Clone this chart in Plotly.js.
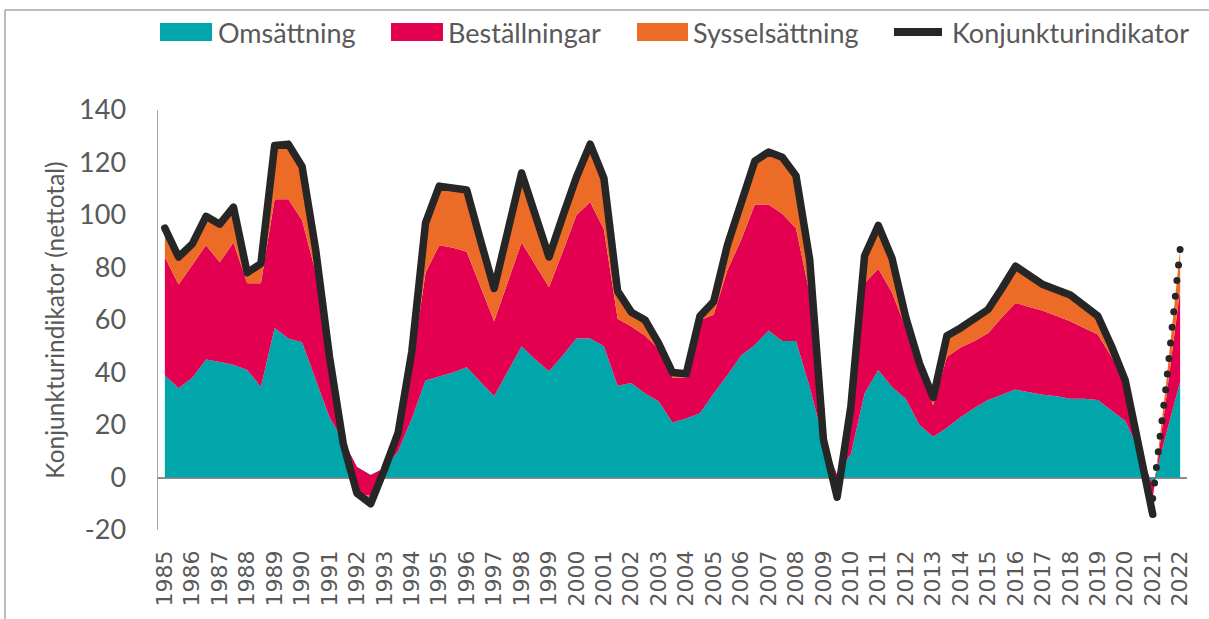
<!DOCTYPE html>
<html>
<head>
<meta charset="utf-8">
<script src="https://cdn.plot.ly/plotly-3.0.1.min.js"></script>
<style>
  html, body { margin: 0; padding: 0; background: #ffffff; }
  #chart { width: 1209px; height: 619px; }
  .scatterlayer .trace path.js-line { stroke-linejoin: round; stroke-linecap: round; }
</style>
</head>
<body>
<div id="chart"></div>
<script>
// ---- Data ----
const years = [1985,1986,1987,1988,1989,1990,1991,1992,1993,1994,1995,1996,1997,1998,1999,2000,
               2001,2002,2003,2004,2005,2006,2007,2008,2009,2010,2011,2012,2013,2014,2015,2016,
               2017,2018,2019,2020,2021,2022];
// half-year periods: H1 and H2 of each year, the last one is 2022 H1
const periods = [];
years.forEach(function (y) { periods.push(y + ' H1'); if (y < 2022) periods.push(y + ' H2'); });

const seriesNames = ['Omsättning', 'Beställningar', 'Sysselsättning', 'Konjunkturindikator'];

const omsattning = [39,34,38,45,44,43,41,34.5,57,53,
  51.5,37,23,14,4,1,3.5,10,22.5,37,
  38.5,40,42,36.5,31,40.5,50,45,40.5,46.5,
  53,53,50,35,36,32,29,21,22.5,24.5,
  32,39,46.5,50.5,56,52,52,34.5,14,1,
  9,32,41,34.5,30,20,15.5,19,23,26.5,
  29.5,31.5,33.5,32.5,31.5,31,30,30,29.5,25.5,
  21.5,10.5,-3,17,36.5];

const bestallningar = [45,39.5,43,43.5,38,46.5,33,39.5,49,53,
  46.5,41,19,0,-10,-8,-1,6,20,41,
  50,47.5,44,36,28.5,34,39.5,36,32,39.5,
  47,52,44.5,25.5,21.5,22,20,17,15.5,35.5,
  30,40,44,53.5,48,48.5,43,35.5,0.5,-2,
  17,42,38.5,36,27,21,12,27,26.5,25.5,
  25.5,29.5,33,32.5,32,30.5,29.5,27,25,20.5,
  14.5,1,-5,14,35];

const sysselsattning = [11,11,8,11,14.5,13.5,4,7.5,20.5,21,
  20.5,8,4,0,0,-1,0,1,5.5,19,
  22.5,23,23.5,18,12.5,19.5,26.5,19,11.5,13.5,
  14.5,22,19.5,10.5,5.5,6,2.5,2,1.5,1.5,
  5,9,14,16.5,20,21.5,20,13,0,-1,
  1,10.5,16.5,13,4,2.5,3,8,7.5,8.5,
  9,11,14,12,10,10,10,8.5,7,4,
  1,0,0,6,15.5];

const konjunkturindikator = [95,84,89,99.5,96.5,103,78,81.5,126.5,127,
  118.5,86.5,46,13,-6,-10,3,17,48,97,
  111,110,109.5,90.5,72,94,116,100,84,99.5,
  114.5,127,114,71,63,60,51,40,39.5,61.5,
  67,88.5,104.5,120.5,124,122,115,83,14.5,-7.5,
  27,84.5,96,83.5,61,43.5,30.5,54,57,60.5,
  64,72,80.5,77,73.5,71.5,69.5,65.5,61.5,50,
  37,11.5,-14,null,null];

const prognosPeriods = ['2021 H1', '2021 H2', '2022 H1'];
const prognos = [-8, 36, 87];

const yTicks = [-20, 0, 20, 40, 60, 80, 100, 120, 140];
const yTickText = ['-20', '0', '20', '40', '60', '80', '100', '120', '140'];

// ---- Styles ----
const colors = ['#00A6A9', '#E30051', '#EC6C27', '#262626'];
const tickColor = '#595959';

const W = 1209, H = 619;
const M = { l: 158, r: 22, t: 110, b: 89 };
const pw = W - M.l - M.r, ph = H - M.t - M.b;
function px(x) { return (x - M.l) / pw; }
function py(y) { return (H - M.b - y) / ph; }

const areaData = [omsattning, bestallningar, sysselsattning];
const traces = areaData.map(function (vals, k) {
  return {
    type: 'scatter', mode: 'lines', x: periods, y: vals, name: seriesNames[k],
    stackgroup: 'one', fill: 'tonexty', fillcolor: colors[k],
    line: { width: 0, color: colors[k] }, showlegend: false, hoverinfo: 'skip'
  };
});
traces.push({
  type: 'scatter', mode: 'lines', x: periods, y: konjunkturindikator, name: seriesNames[3],
  line: { color: colors[3], width: 7.5 }, connectgaps: false, showlegend: false, hoverinfo: 'skip'
});
traces.push({
  type: 'scatter', mode: 'lines', x: prognosPeriods, y: prognos, name: 'prognos',
  line: { color: colors[3], width: 7, dash: '0px,15.66px' }, showlegend: false, hoverinfo: 'skip'
});

// ---- custom legend (shapes + annotations) ----
const legendY = 32;
const legendItems = [
  { x0: 160, x1: 212, tx: 216 },
  { x0: 391, x1: 443, tx: 446 },
  { x0: 637, x1: 688, tx: 691 },
  { x0: 890, x1: 946, tx: 950 }
];
const shapes = [];
const annotations = [];
legendItems.forEach(function (it, k) {
  if (k < 3) {
    shapes.push({ type: 'rect', xref: 'paper', yref: 'paper',
      x0: px(it.x0), x1: px(it.x1), y0: py(legendY + 9), y1: py(legendY - 9),
      fillcolor: colors[k], line: { width: 0 } });
  } else {
    shapes.push({ type: 'line', xref: 'paper', yref: 'paper',
      x0: px(it.x0 + 4), x1: px(it.x1 - 4), y0: py(legendY), y1: py(legendY),
      line: { color: colors[3], width: 8 } });
  }
  annotations.push({ xref: 'paper', yref: 'paper', x: px(it.tx), y: py(legendY),
    xanchor: 'left', yanchor: 'middle', showarrow: false, text: seriesNames[k],
    font: { family: 'Lato, sans-serif', size: 27, color: tickColor } });
});
// outer frame (top and left edges visible)
shapes.push({ type: 'line', xref: 'paper', yref: 'paper', x0: px(5), x1: px(1215), y0: py(10), y1: py(10),
  line: { color: '#A6A6A6', width: 1.5 } });
shapes.push({ type: 'line', xref: 'paper', yref: 'paper', x0: px(5), x1: px(5), y0: py(10), y1: py(625),
  line: { color: '#A6A6A6', width: 1.5 } });

const tickvals = years.map(function (y) { return y + ' H1'; });
const ticktext = years.map(function (y) { return String(y); });

const layout = {
  width: W, height: H,
  margin: M,
  paper_bgcolor: '#ffffff', plot_bgcolor: '#ffffff',
  showlegend: false,
  xaxis: {
    type: 'category', categoryorder: 'array', categoryarray: periods,
    range: [-0.5, periods.length - 0.5],
    tickmode: 'array', tickvals: tickvals, ticktext: ticktext,
    tickangle: -90, ticks: '', showgrid: false, zeroline: false, showline: false,
    ticklabelstandoff: 15,
    tickfont: { family: 'DejaVu Sans, sans-serif', size: 22, color: tickColor }
  },
  yaxis: {
    range: [-20, 140], tickmode: 'array', tickvals: yTicks, ticktext: yTickText,
    showgrid: false, zeroline: true, zerolinecolor: '#8C8C8C', zerolinewidth: 2,
    showline: true, linecolor: '#A6A6A6', linewidth: 1.5, ticks: '',
    ticklabelstandoff: 25, layer: 'above traces',
    tickfont: { family: 'Lato, sans-serif', size: 27, color: tickColor },
    title: { text: 'Konjunkturindikator (nettotal)', standoff: 7,
      font: { family: 'Lato, sans-serif', size: 24.5, color: tickColor } }
  },
  shapes: shapes,
  annotations: annotations
};

Plotly.newPlot('chart', traces, layout, { staticPlot: true, displayModeBar: false });
</script>
</body>
</html>
